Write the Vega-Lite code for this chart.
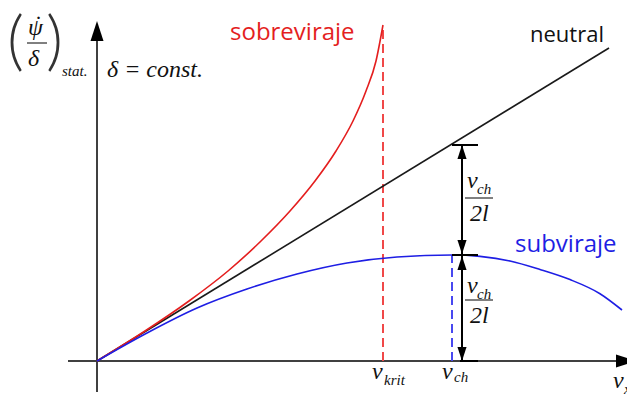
{
  "$schema": "https://vega.github.io/schema/vega-lite/v6.json",
  "width": 627,
  "height": 403,
  "autosize": {"type": "none"},
  "padding": 0,
  "background": "white",
  "config": {"view": {"stroke": null}},
  "datasets": {
    "curves": [
      {"curve": "neutral", "x": 0, "y": 0},
      {"curve": "neutral", "x": 51.2, "y": 31.3},
      {"curve": "sobreviraje", "x": 0, "y": 0},
      {"curve": "sobreviraje", "x": 4.8, "y": 3},
      {"curve": "sobreviraje", "x": 9.2, "y": 6},
      {"curve": "sobreviraje", "x": 13.1, "y": 9},
      {"curve": "sobreviraje", "x": 16.4, "y": 12},
      {"curve": "sobreviraje", "x": 19.3, "y": 15},
      {"curve": "sobreviraje", "x": 21.8, "y": 18},
      {"curve": "sobreviraje", "x": 23.9, "y": 21},
      {"curve": "sobreviraje", "x": 25.6, "y": 24},
      {"curve": "sobreviraje", "x": 26.9, "y": 27},
      {"curve": "sobreviraje", "x": 27.9, "y": 30},
      {"curve": "sobreviraje", "x": 28.6, "y": 33.6},
      {"curve": "subviraje", "x": 0, "y": 0},
      {"curve": "subviraje", "x": 5, "y": 2.8},
      {"curve": "subviraje", "x": 10, "y": 5.3},
      {"curve": "subviraje", "x": 15, "y": 7.2},
      {"curve": "subviraje", "x": 20, "y": 8.7},
      {"curve": "subviraje", "x": 25, "y": 9.8},
      {"curve": "subviraje", "x": 30, "y": 10.4},
      {"curve": "subviraje", "x": 35.5, "y": 10.6},
      {"curve": "subviraje", "x": 38.3, "y": 10.46},
      {"curve": "subviraje", "x": 41.3, "y": 10.0},
      {"curve": "subviraje", "x": 44.3, "y": 9.15},
      {"curve": "subviraje", "x": 47.3, "y": 8.14},
      {"curve": "subviraje", "x": 50.3, "y": 6.73},
      {"curve": "subviraje", "x": 52.5, "y": 5.1}
    ],
    "dashes": [
      {"speed": "krit", "x": 28.6, "y": 0, "y2": 33.6},
      {"speed": "ch", "x": 35.5, "y": 0, "y2": 10.6}
    ],
    "axes": [
      {"x": -2.9, "x2": 52.5, "y": 0, "y2": 0},
      {"x": 0, "x2": 0, "y": -3.1, "y2": 32}
    ],
    "axisHeads": [
      {"dir": "up", "x": 0, "y": 34.0},
      {"dir": "right", "x": 53.9, "y": 0}
    ],
    "dims": [
      {"x": 36.5, "x2": 36.5, "y": 0, "y2": 21.6},
      {"x": 35.5, "x2": 38.1, "y": 21.6, "y2": 21.6},
      {"x": 35.5, "x2": 38.1, "y": 10.6, "y2": 10.6},
      {"x": 36.3, "x2": 38.1, "y": 0, "y2": 0}
    ],
    "dimHeads": [
      {"dir": "up", "x": 36.5, "y": 21.6},
      {"dir": "down", "x": 36.5, "y": 10.7},
      {"dir": "up", "x": 36.5, "y": 10.5},
      {"dir": "down", "x": 36.5, "y": 0}
    ],
    "fracBars": [
      {"x": -7.0, "x2": -5.0, "y": 31.8},
      {"x": 36.8, "x2": 39.6, "y": 16.3},
      {"x": 36.8, "x2": 39.6, "y": 6.1}
    ],
    "mathBig": [
      {"t": "δ = const.", "x": 1.0, "y": 28.4},
      {"t": "ψ", "x": -6.9, "y": 32.6},
      {"t": "˙", "x": -6.4, "y": 32.9},
      {"t": "δ", "x": -6.9, "y": 29.5},
      {"t": "v", "x": 27.5, "y": -1.8},
      {"t": "v", "x": 34.5, "y": -1.8},
      {"t": "v", "x": 51.6, "y": -2.7},
      {"t": "v", "x": 37.0, "y": 17.3},
      {"t": "2l", "x": 37.3, "y": 14.0},
      {"t": "v", "x": 37.0, "y": 6.8},
      {"t": "2l", "x": 37.3, "y": 3.8}
    ],
    "mathSmall": [
      {"t": "stat.", "x": -3.5, "y": 28.5},
      {"t": "krit", "x": 28.7, "y": -2.4},
      {"t": "ch", "x": 35.7, "y": -2.1},
      {"t": "x", "x": 52.7, "y": -3.3},
      {"t": "ch", "x": 38.0, "y": 16.7},
      {"t": "ch", "x": 38.0, "y": 6.2}
    ],
    "parens": [
      {"t": "(", "x": -9.0, "y": 29.8},
      {"t": ")", "x": -5.1, "y": 29.8}
    ],
    "labels": [
      {"curve": "sobreviraje", "t": "sobreviraje", "x": 13.3, "y": 32.1},
      {"curve": "subviraje", "t": "subviraje", "x": 41.8, "y": 10.9}
    ],
    "neutralLabel": [
      {"t": "neutral", "x": 43.3, "y": 31.9}
    ]
  },
  "encoding": {
    "x": {"field": "x", "type": "quantitative", "scale": {"domain": [-9.7, 53.0], "nice": false, "zero": false}, "axis": null},
    "y": {"field": "y", "type": "quantitative", "scale": {"domain": [-4.2, 36.1], "nice": false, "zero": false}, "axis": null}
  },
  "layer": [
    {
      "data": {"name": "axes"},
      "mark": {"type": "rule", "color": "#404040", "strokeWidth": 2},
      "encoding": {"x2": {"field": "x2"}, "y2": {"field": "y2"}}
    },
    {
      "data": {"name": "axisHeads"},
      "transform": [{"filter": "datum.dir === 'up'"}],
      "mark": {"type": "point", "shape": "M0,0L0.65,2L-0.65,2Z", "size": 400, "filled": true, "color": "#000000", "opacity": 1}
    },
    {
      "data": {"name": "axisHeads"},
      "transform": [{"filter": "datum.dir === 'right'"}],
      "mark": {"type": "point", "shape": "M0,0L-2,0.65L-2,-0.65Z", "size": 400, "filled": true, "color": "#000000", "opacity": 1}
    },
    {
      "data": {"name": "dashes"},
      "transform": [{"filter": "datum.speed === 'krit'"}],
      "mark": {"type": "rule", "strokeWidth": 2, "strokeDash": [9, 5], "color": "#f04848"},
      "encoding": {"y2": {"field": "y2"}}
    },
    {
      "data": {"name": "dashes"},
      "transform": [{"filter": "datum.speed === 'ch'"}],
      "mark": {"type": "rule", "strokeWidth": 2, "strokeDash": [9, 5], "color": "#4848f0"},
      "encoding": {"y2": {"field": "y2"}}
    },
    {
      "data": {"name": "curves"},
      "transform": [{"filter": "datum.curve === 'neutral'"}],
      "mark": {"type": "line", "strokeWidth": 1.6, "color": "#1a1a1a"}
    },
    {
      "data": {"name": "curves"},
      "transform": [{"filter": "datum.curve === 'sobreviraje'"}],
      "mark": {"type": "line", "strokeWidth": 1.6, "color": "#e41e1e", "interpolate": "monotone"}
    },
    {
      "data": {"name": "curves"},
      "transform": [{"filter": "datum.curve === 'subviraje'"}],
      "mark": {"type": "line", "strokeWidth": 1.6, "color": "#1e1ee4", "interpolate": "monotone"}
    },
    {
      "data": {"name": "dims"},
      "mark": {"type": "rule", "color": "#000000", "strokeWidth": 2},
      "encoding": {"x2": {"field": "x2"}, "y2": {"field": "y2"}}
    },
    {
      "data": {"name": "dimHeads"},
      "transform": [{"filter": "datum.dir === 'up'"}],
      "mark": {"type": "point", "shape": "M0,0L0.65,2L-0.65,2Z", "size": 196, "filled": true, "color": "#000000", "opacity": 1}
    },
    {
      "data": {"name": "dimHeads"},
      "transform": [{"filter": "datum.dir === 'down'"}],
      "mark": {"type": "point", "shape": "M0,0L0.65,-2L-0.65,-2Z", "size": 196, "filled": true, "color": "#000000", "opacity": 1}
    },
    {
      "data": {"name": "fracBars"},
      "mark": {"type": "rule", "color": "#000000", "strokeWidth": 1},
      "encoding": {"x2": {"field": "x2"}}
    },
    {
      "data": {"name": "mathBig"},
      "mark": {"type": "text", "font": "Liberation Serif", "fontStyle": "italic", "fontSize": 24, "align": "left", "baseline": "alphabetic", "color": "#111111"},
      "encoding": {"text": {"field": "t"}}
    },
    {
      "data": {"name": "mathSmall"},
      "mark": {"type": "text", "font": "Liberation Serif", "fontStyle": "italic", "fontSize": 15, "align": "left", "baseline": "alphabetic", "color": "#111111"},
      "encoding": {"text": {"field": "t"}}
    },
    {
      "data": {"name": "parens"},
      "mark": {"type": "text", "font": "Lato", "fontWeight": 300, "fontSize": 66, "align": "left", "baseline": "alphabetic", "color": "#333333"},
      "encoding": {"text": {"field": "t"}}
    },
    {
      "data": {"name": "labels"},
      "transform": [{"filter": "datum.curve === 'sobreviraje'"}],
      "mark": {"type": "text", "font": "Open Sans", "fontSize": 24, "align": "left", "baseline": "alphabetic", "color": "#e41e1e"},
      "encoding": {"text": {"field": "t"}}
    },
    {
      "data": {"name": "labels"},
      "transform": [{"filter": "datum.curve === 'subviraje'"}],
      "mark": {"type": "text", "font": "Open Sans", "fontSize": 24, "align": "left", "baseline": "alphabetic", "color": "#1e1ee4"},
      "encoding": {"text": {"field": "t"}}
    },
    {
      "data": {"name": "neutralLabel"},
      "mark": {"type": "text", "font": "Open Sans", "fontSize": 22, "align": "left", "baseline": "alphabetic", "color": "#111111"},
      "encoding": {"text": {"field": "t"}}
    }
  ]
}
